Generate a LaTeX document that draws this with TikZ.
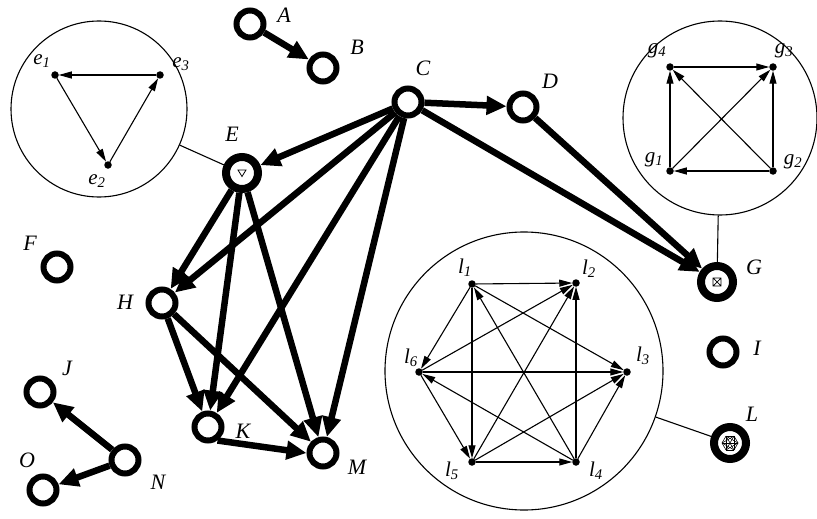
\documentclass[tikz,border=0pt]{standalone}
\usepackage{fontspec}
\setmainfont{Liberation Serif}
\usetikzlibrary{arrows.meta}
\tikzset{
  every picture/.style={x=1pt, y=-1pt},
  vtx/.style={circle, draw, fill=white, line width=6pt, minimum size=27pt, inner sep=0pt},
  hub/.style={vtx, line width=8pt, minimum size=32pt},
  dot/.style={circle, fill, inner sep=0pt, outer sep=0pt, minimum size=7.5pt},
  bubble/.style={circle, draw, line width=1.1pt, inner sep=0pt, minimum size=#1},
  link/.style={-{Triangle[length=20pt, width=18pt]}, line width=6.5pt},
  sublink/.style={-{Triangle[length=13pt, width=7pt]}, line width=1.1pt},
  tag/.style={font=\fontsize{22}{22}\selectfont\itshape},
  subtag/.style={font=\fontsize{21}{21}\selectfont\itshape},
}
\begin{document}
\begin{tikzpicture}
  \useasboundingbox (0,0) rectangle (817,519);
  % zoom bubbles
  \node[bubble=176pt] (Ebub) at (99,109) {};
  \node[bubble=194pt] (Gbub) at (720,118) {};
  \node[bubble=278pt] (Lbub) at (524,371) {};
  \foreach \n/\x/\y/\lx/\ly in {1/55/75/42/61, 2/108/165/97/181, 3/160/75/181/64} {
    \node[dot] (e\n) at (\x,\y) {};
    \node[subtag] (te\n) at (\lx,\ly) {e\textsubscript{\n}};
  }
  \foreach \n/\x/\y/\lx/\ly in {1/670/171/654/160, 2/773/171/793/162, 3/773/67/784/51, 4/670/67/657/51} {
    \node[dot] (g\n) at (\x,\y) {};
    \node[subtag] (tg\n) at (\lx,\ly) {g\textsubscript{\n}};
  }
  \foreach \n/\x/\y/\lx/\ly in {1/472/284/465/268, 2/576/283/589/269, 3/627/372/643/356,
                                 4/576/462/596/471, 5/472/462/452/471, 6/419/372/411/358} {
    \node[dot] (l\n) at (\x,\y) {};
    \node[subtag] (tl\n) at (\lx,\ly) {l\textsubscript{\n}};
  }
  \foreach \a/\b in {e3/e1, e1/e2, e2/e3,
                     g4/g3, g1/g4, g2/g3, g1/g3, g2/g4, g2/g1,
                     l1/l2, l1/l6, l1/l5, l1/l3, l6/l2, l5/l2, l4/l2,
                     l4/l1, l6/l3, l4/l6, l5/l3, l4/l3, l6/l5, l5/l4}
    \draw[sublink] (\a) -- (\b);
  % main graph
  \foreach \n/\x/\y in {A/250/24, B/323/68, C/408/102, D/523/107, F/57/267, H/162/303,
                        I/723/352, J/40/392, K/208/427, M/323/453, N/125/460, O/43/490}
    \node[vtx] (\n) at (\x,\y) {};
  \node[hub] (E) at (242,173) {};
  \node[hub] (G) at (717,282) {};
  \node[hub] (L) at (730,443) {};
  \foreach \n/\x/\y in {A/284/15, B/357/47, C/423/68, D/550/81, E/232/134, F/30/243, G/754/267,
                        H/125/302, I/757/348, J/67/368, K/243/431, L/752/414, M/357/467,
                        N/158/482, O/27/460}
    \node[tag] (t\n) at (\x,\y) {\n};
  % icons inside the zoomed vertices
  \draw[shift={(E)}, line width=.8pt] (-4,-3) -- (4,-3) -- (0,3.5) -- cycle;
  \draw[shift={(G)}, line width=.7pt] (-4,-4) rectangle (4,4) (-4,-4) -- (4,4) (-4,4) -- (4,-4);
  \foreach \i in {0,...,5}
    \foreach \j in {0,...,5}
      \draw[shift={(L)}, line width=.3pt] (60*\i:8) -- (60*\j:8);
  \foreach \a/\b in {Ebub/E, Gbub/G, Lbub/L}
    \draw[line width=1.1pt] (\a) -- (\b);
  \foreach \a/\b in {A/B, C/D, C/E, C/H, C/K, C/M, C/G, D/G, E/H, E/K, E/M,
                     H/K, H/M, N/J, N/O}
    \draw[link] (\a) -- (\b);
  \draw[link] (K.-55) -- (M.west);
\end{tikzpicture}
\end{document}
